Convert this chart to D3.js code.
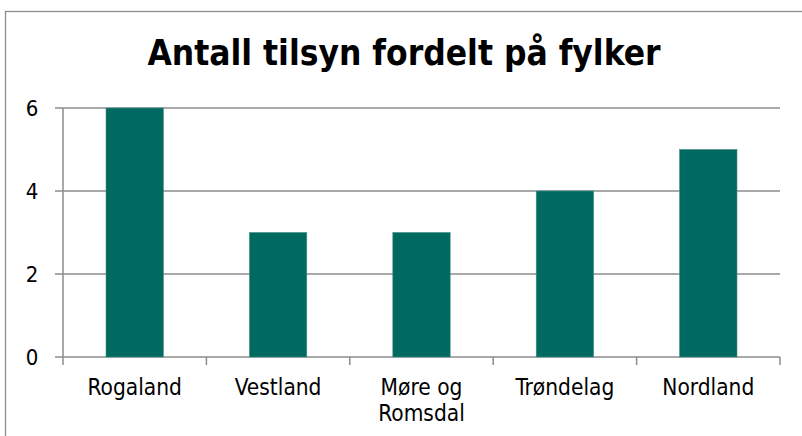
<!DOCTYPE html>
<html>
<head>
<meta charset="utf-8">
<script src="https://cdn.jsdelivr.net/npm/d3@7"></script>
<style>
  body { margin: 0; background: #fff; }
  text { font-family: "DejaVu Sans Condensed", "DejaVu Sans", sans-serif; fill: #000; }
</style>
</head>
<body>
<div id="chart"></div>
<script>
var categories = [["Rogaland"], ["Vestland"], ["Møre og", "Romsdal"], ["Trøndelag"], ["Nordland"]];
var values = [6, 3, 3, 4, 5];
var yTicks = [0, 2, 4, 6];
var title = "Antall tilsyn fordelt på fylker";

var W = 802, H = 436;
var margin = { top: 108, right: 22, bottom: 79, left: 63 },
    width = W - margin.left - margin.right,
    height = H - margin.top - margin.bottom;

var svg = d3.select("#chart")
    .append("svg")
    .attr("width", W)
    .attr("height", H);

// outer frame
svg.append("rect")
    .attr("x", 5.5).attr("y", 11.5)
    .attr("width", 820).attr("height", 460)
    .attr("fill", "none")
    .attr("stroke", "#8c8c8c")
    .attr("stroke-width", 1.3);

svg.append("text")
    .attr("x", 404).attr("y", 65)
    .attr("text-anchor", "middle")
    .style("font-size", "35px")
    .style("font-weight", "bold")
    .text(title);

var g = svg.append("g")
    .attr("transform", "translate(" + margin.left + "," + margin.top + ")");

var names = categories.map(function(d) { return d.join(" "); });

var x = d3.scaleBand()
    .domain(names)
    .range([0, width])
    .paddingInner(0.6)
    .paddingOuter(0.3);

var y = d3.scaleLinear()
    .domain([0, 6])
    .range([height, 0]);

// gridlines
g.append("g")
    .selectAll("line")
    .data(yTicks)
    .enter()
    .append("line")
    .attr("x1", -8).attr("x2", width)
    .attr("y1", function(d) { return y(d); })
    .attr("y2", function(d) { return y(d); })
    .attr("stroke", "#8c8c8c")
    .attr("stroke-width", 1.5);

// bars
g.selectAll(".bar")
    .data(values)
    .enter()
    .append("rect")
    .attr("class", "bar")
    .attr("x", function(d, i) { return x(names[i]); })
    .attr("width", x.bandwidth())
    .attr("y", function(d) { return y(d); })
    .attr("height", function(d) { return height - y(d); })
    .attr("fill", "#006a60")
    .attr("stroke", "#3f8f86")
    .attr("stroke-width", 0.6);

// y axis
g.append("line")
    .attr("x1", 0).attr("x2", 0)
    .attr("y1", 0).attr("y2", height)
    .attr("stroke", "#8c8c8c").attr("stroke-width", 1.5);

g.append("g")
    .selectAll("text")
    .data(yTicks)
    .enter()
    .append("text")
    .attr("x", -31)
    .attr("y", function(d) { return y(d); })
    .attr("dy", "0.36em")
    .attr("text-anchor", "middle")
    .style("font-size", "22px")
    .text(function(d) { return d; });

// x axis ticks at band boundaries
var bounds = d3.range(names.length + 1).map(function(i) { return i * width / names.length; });
g.append("g")
    .selectAll("line")
    .data(bounds)
    .enter()
    .append("line")
    .attr("x1", function(d) { return d; })
    .attr("x2", function(d) { return d; })
    .attr("y1", height).attr("y2", height + 8)
    .attr("stroke", "#8c8c8c").attr("stroke-width", 1.5);

var labels = g.append("g")
    .selectAll("text")
    .data(categories)
    .enter()
    .append("text")
    .attr("x", function(d, i) { return x(names[i]) + x.bandwidth() / 2; })
    .attr("y", height + 38)
    .attr("text-anchor", "middle")
    .style("font-size", "22.5px");

labels.selectAll("tspan")
    .data(function(d) { return d; })
    .enter()
    .append("tspan")
    .attr("x", function() { return d3.select(this.parentNode).attr("x"); })
    .attr("dy", function(d, i) { return i === 0 ? 0 : 26; })
    .text(function(d) { return d; });
</script>
</body>
</html>
